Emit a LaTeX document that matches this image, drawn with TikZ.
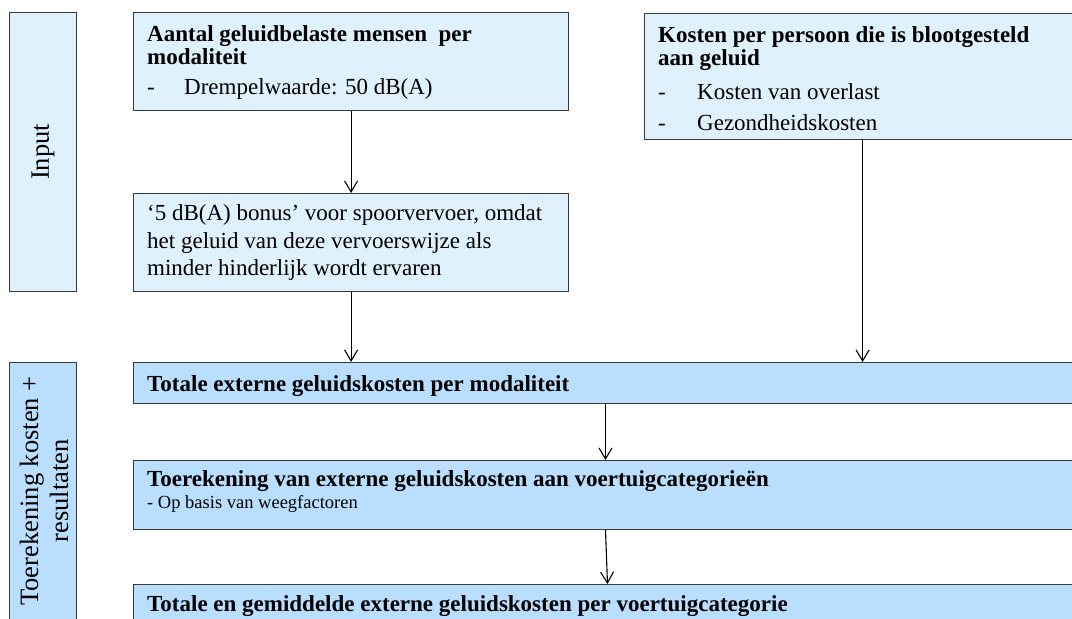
\documentclass[tikz,border=0pt]{standalone}
\usepackage{fontspec}
\setmainfont{Liberation Serif}
\usetikzlibrary{arrows.meta}
\definecolor{lightfill}{RGB}{224,241,254}
\definecolor{darkfill}{RGB}{186,223,254}
\definecolor{edge}{RGB}{58,58,58}
\begin{document}
\begin{tikzpicture}[x=1pt,y=-1pt,
  lightbox/.style={draw=edge, line width=1.2pt, fill=lightfill, inner sep=0pt, anchor=north west},
  darkbox/.style={draw=edge, line width=1.2pt, fill=darkfill, inner sep=0pt, anchor=north west},
  txt/.style={anchor=base west, inner sep=0pt, font=\fontsize{23}{27}\selectfont},
  btxt/.style={anchor=base west, inner sep=0pt, font=\fontsize{23}{27}\selectfont\bfseries},
  stxt/.style={anchor=base west, inner sep=0pt, font=\fontsize{18.5}{22}\selectfont},
  arr/.style={-{Straight Barb[length=11pt,width=13pt]}, line width=1.1pt},
  sidelabel/.style={rotate=90, align=center, inner sep=0pt, font=\fontsize{26.5}{30}\selectfont}]
\useasboundingbox (0,0) rectangle (1072,619);
\clip (0,0) rectangle (1072,619);

% side boxes
\node[lightbox, minimum width=67pt, minimum height=279pt] (inp) at (9,12) {};
\node[darkbox, minimum width=67pt, minimum height=300pt] (toe) at (9,362) {};
\node[sidelabel] (inpL) at (43,152) {Input};
\node[sidelabel] (toeL) at (44,491) {Toerekening kosten +\\resultaten};

% main boxes
\node[lightbox, minimum width=435pt, minimum height=98pt] (A) at (133,12) {};
\node[lightbox, minimum width=435pt, minimum height=98pt] (B) at (133,193) {};
\node[lightbox, minimum width=436pt, minimum height=126pt] (C) at (644,13) {};
\node[darkbox, minimum width=947pt, minimum height=41pt] (T) at (133,362) {};
\node[darkbox, minimum width=947pt, minimum height=69pt] (R) at (133,460) {};
\node[darkbox, minimum width=947pt, minimum height=60pt] (Q) at (133,584) {};

% texts
\node[btxt] (a1) at (147,41) {Aantal geluidbelaste mensen\ \ per};
\node[btxt] (a2) at (147,64) {modaliteit};
\node[txt] (a3) at (147,94) {-};
\node[txt] (a4) at (184,94) {Drempelwaarde: 50 dB(A)};

\node[txt] (b1) at (147,220) {‘5 dB(A) bonus’ voor spoorvervoer, omdat};
\node[txt] (b2) at (147,248) {het geluid van deze vervoerswijze als};
\node[txt] (b3) at (147,275) {minder hinderlijk wordt ervaren};

\node[btxt] (c1) at (658,42) {Kosten per persoon die is blootgesteld};
\node[btxt] (c2) at (658,65) {aan geluid};
\node[txt] (c3) at (658,99) {-};
\node[txt] (c4) at (697,99) {Kosten van overlast};
\node[txt] (c5) at (658,130) {-};
\node[txt] (c6) at (697,130) {Gezondheidskosten};

\node[btxt] (t1) at (147,391) {Totale externe geluidskosten per modaliteit};
\node[btxt] (r1) at (147,486) {Toerekening van externe geluidskosten aan voertuigcategorieën};
\node[stxt] (r2) at (147,508) {- Op basis van weegfactoren};
\node[btxt] (q1) at (147,611) {Totale en gemiddelde externe geluidskosten per voertuigcategorie};

% connectors
\draw[arr] (A.south) -- (B.north);
\draw[arr] (B.south) -- (B.south |- T.north);
\draw[arr] (C.south) -- (C.south |- T.north);
\draw[arr] ([xshift=472.5pt]T.south west) -- ([xshift=472.5pt]R.north west);
\draw[arr] ([xshift=472.5pt]R.south west) -- ([xshift=474.5pt]Q.north west);
\end{tikzpicture}
\end{document}
